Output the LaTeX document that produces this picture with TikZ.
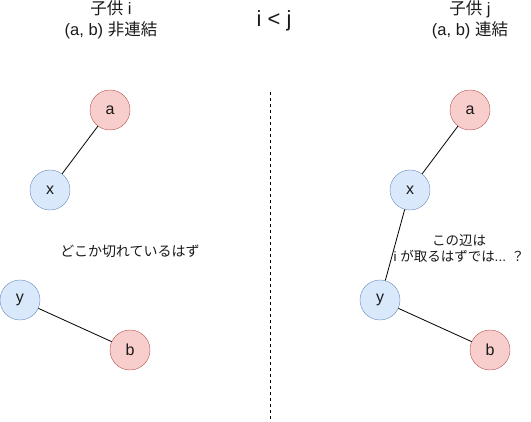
\documentclass[tikz,border=0pt]{standalone}
\usepackage{fontspec}
\setmainfont{Liberation Sans}
\newfontfamily\jp{Noto Sans CJK JP}
\definecolor{redfill}{HTML}{F8CECC}
\definecolor{redline}{HTML}{B85450}
\definecolor{bluefill}{HTML}{DAE8FC}
\definecolor{blueline}{HTML}{6C8EBF}
\definecolor{txt}{HTML}{1A1A1A}
\tikzset{
  rnode/.style={circle, draw=redline, fill=redfill, minimum size=40pt, inner sep=0pt, text=txt, font=\fontsize{16}{18}\selectfont},
  bnode/.style={circle, draw=blueline, fill=bluefill, minimum size=40pt, inner sep=0pt, text=txt, font=\fontsize{16}{18}\selectfont},
  lbl/.style={align=center, inner sep=0pt, text=txt},
  edge/.style={draw=black, line width=0.8pt}
}
\begin{document}
\begin{tikzpicture}[x=1pt,y=-1pt]
\useasboundingbox (0,0) rectangle (531,422);
% left
\node[rnode] (la) at (110,110) {a};
\node[bnode] (lx) at (50,190) {x};
\node[bnode] (ly) at (20,300) {y};
\node[rnode] (lb) at (130,350) {b};
\draw[edge] (la) -- (lx);
\draw[edge] (ly) -- (lb);
% right
\node[rnode] (ra) at (470,110) {a};
\node[bnode] (rx) at (410,190) {x};
\node[bnode] (ry) at (380,300) {y};
\node[rnode] (rb) at (490,350) {b};
\draw[edge] (ra) -- (rx);
\draw[edge] (rx) -- (ry);
\draw[edge] (ry) -- (rb);
% divider
\coordinate (dtop) at (270,92);
\coordinate (dbot) at (270,420);
\draw[dashed, line width=0.8pt] (dtop) -- (dbot);
% labels
\node[lbl, font=\fontsize{16.5}{21}\selectfont] (ti) at (111,20) {{\jp 子供} i\\(a, b) {\jp 非連結}};
\node[lbl, font=\fontsize{16.5}{21}\selectfont] (tj) at (470,20) {{\jp 子供} j\\(a, b) {\jp 連結}};
\node[lbl, font=\fontsize{22}{24}\selectfont] (ij) at (274,21) {i < j};
\node[lbl, font=\fontsize{14}{16}\selectfont] (cut) at (130,251) {\jp どこか切れているはず};
\node[lbl, font=\fontsize{13.5}{16}\selectfont] (q) at (459,249) {{\jp この辺は}\\i {\jp が取るはずでは}... {\jp ？}};
\end{tikzpicture}
\end{document}
